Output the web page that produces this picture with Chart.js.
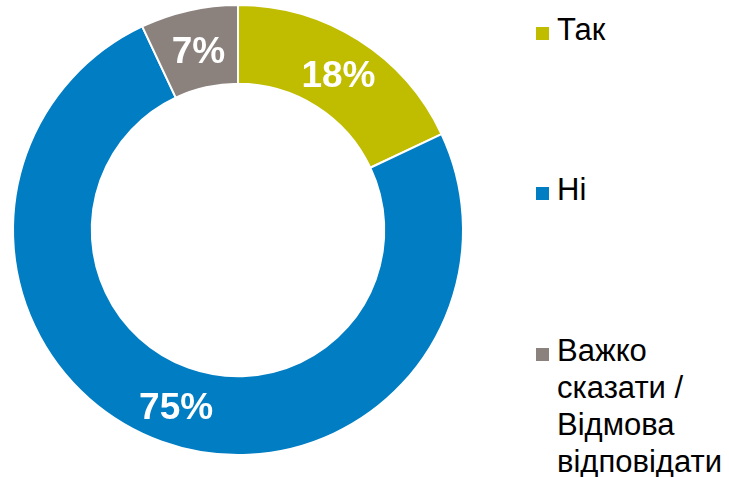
<!DOCTYPE html>
<html>
<head>
<meta charset="utf-8">
<script src="https://cdn.jsdelivr.net/npm/chart.js@4.4.1/dist/chart.umd.min.js"></script>
<style>
	html, body { margin: 0; padding: 0; background: #ffffff; }
	body { width: 729px; height: 477px; position: relative; overflow: hidden; font-family: "Liberation Sans", Arial, sans-serif; }
	#chartbox { position: absolute; left: 0; top: 0; width: 476px; height: 460px; }
	#legend { position: absolute; left: 536px; top: 0; width: 193px; }
	.leg-item { position: absolute; left: 0; width: 193px; }
	.leg-box { position: absolute; left: 0; width: 13px; height: 13px; }
	.leg-text { position: absolute; left: 21px; font-size: 31px; line-height: 37px; color: #000; white-space: nowrap; }
</style>
</head>
<body>
<div id="chartbox"><canvas id="canvasdoughnut"></canvas></div>
<div id="legend"></div>
<script>
var labels = ["Так", "Ні", "Важко сказати / Відмова відповідати"];
var legendLines = [["Так"], ["Ні"], ["Важко", "сказати /", "Відмова", "відповідати"]];
var values = [18, 75, 7];
var colors = ["#C0BC00", "#007DC3", "#8B827D"];

// legend rows (top of first text line)
var legendTops = [11, 171, 332];
var legend = document.getElementById('legend');
for (var i = 0; i < labels.length; i++) {
	var item = document.createElement('div');
	item.className = 'leg-item';
	item.style.top = legendTops[i] + 'px';
	var box = document.createElement('div');
	box.className = 'leg-box';
	box.style.background = colors[i];
	box.style.top = '16px';
	var txt = document.createElement('div');
	txt.className = 'leg-text';
	txt.innerHTML = legendLines[i].join('<br>');
	item.appendChild(box);
	item.appendChild(txt);
	legend.appendChild(item);
}

var sliceLabels = {
	id: 'sliceLabels',
	afterDatasetsDraw: function(chart) {
		var ctx = chart.ctx;
		var meta = chart.getDatasetMeta(0);
		ctx.save();
		ctx.fillStyle = '#ffffff';
		ctx.font = 'bold 37px "Liberation Sans", Arial, sans-serif';
		ctx.textAlign = 'center';
		ctx.textBaseline = 'middle';
		meta.data.forEach(function(arc, idx) {
			var p = arc.tooltipPosition();
			ctx.fillText(values[idx] + '%', p.x + 1, p.y + 4);
		});
		ctx.restore();
	}
};

var chart_doughnut = new Chart(document.getElementById('canvasdoughnut'), {
	type: 'doughnut',
	data: {
		labels: labels,
		datasets: [{
			data: values,
			backgroundColor: colors,
			borderColor: '#ffffff',
			borderWidth: 2
		}]
	},
	options: {
		responsive: true,
		maintainAspectRatio: false,
		animation: false,
		cutout: '65%',
		layout: { padding: 4 },
		plugins: {
			legend: { display: false },
			tooltip: { enabled: false }
		}
	},
	plugins: [sliceLabels]
});
</script>
</body>
</html>
